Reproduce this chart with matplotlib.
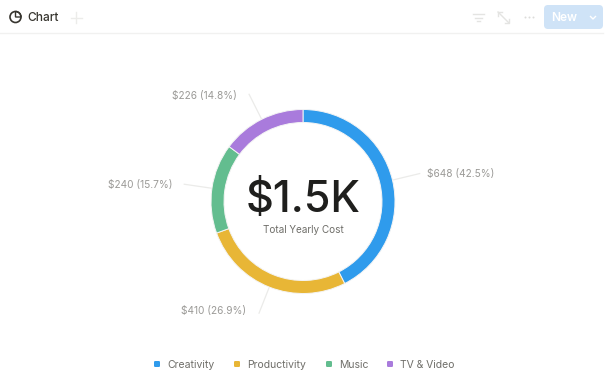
import numpy as np
import matplotlib
matplotlib.use("Agg")
import matplotlib.pyplot as plt
from matplotlib.patches import FancyBboxPatch, Circle, Wedge

plt.rcParams['font.family'] = ['Inter', 'DejaVu Sans']

categories = ["Creativity", "Productivity", "Music", "TV & Video"]
costs = [648, 410, 240, 226]
percents = [42.5, 26.9, 15.7, 14.8]
colors = ["#2f9bec", "#e8b636", "#63bd8f", "#a97bdc"]
total_label = "$1.5K"
total_caption = "Total Yearly Cost"

W, H = 610, 374
CX, CY, R = 303, 201.5, 92

fig = plt.figure(figsize=(W / 100, H / 100), dpi=100, facecolor="white")

# pixel coordinate overlay for the text, header and legend
ax = fig.add_axes([0, 0, 1, 1])
ax.set_xlim(0, W)
ax.set_ylim(H, 0)
ax.axis("off")

# header bar
ax.plot([0, 603], [33, 33], color="#f1f1f0", lw=1)
ax.add_patch(Circle((15.5, 17), 5.5, fill=False, ec="#37352f", lw=1.2))
ax.add_patch(Wedge((15.5, 17), 5.5, -90, 0, fill=False, ec="#37352f", lw=1))
ax.text(27, 17.5, "Chart", fontsize=8.6, fontweight="medium", color="#37352f", va="center")
ax.plot([76, 76], [12, 23], color="#ececea", lw=1)
ax.plot([70.5, 81.5], [17.5, 17.5], color="#ececea", lw=1)

# filter, expand and more icons
for y0, x0, x1 in [(14, 473, 484), (17.5, 475, 482), (21, 477, 480)]:
    ax.plot([x0, x1], [y0, y0], color="#e4e4e2", lw=1)
ax.plot([498, 509], [12, 23], color="#e4e4e2", lw=1)
ax.plot([498, 498, 502], [16, 12, 12], color="#e4e4e2", lw=1)
ax.plot([505, 509, 509], [23, 23, 19], color="#e4e4e2", lw=1)
ax.scatter([525, 529, 533], [17, 17, 17], s=2, color="#dcdcda", lw=0)

# New button
ax.add_patch(FancyBboxPatch((544, 5), 59, 24, boxstyle="round,pad=0,rounding_size=4",
                            fc="#cfe3f7", ec="none"))
ax.text(564, 17.5, "New", fontsize=8.6, fontweight="semibold", color="white", ha="center", va="center")
ax.plot([590.5, 593, 595.5], [16.5, 19, 16.5], color="white", lw=1)

# donut
pie_ax = fig.add_axes([(CX - R) / W, (H - CY - R) / H, 2 * R / W, 2 * R / H])
pie_ax.pie(costs, colors=colors, startangle=90, counterclock=False, radius=1,
           wedgeprops=dict(width=13 / R, edgecolor="#f4f4f4", linewidth=0.7))
pie_ax.set_xlim(-1, 1)
pie_ax.set_ylim(-1, 1)
pie_ax.patch.set_alpha(0)

# leader lines follow the slice mid angles
label_pos = [(427, 173.5, "left"), (246, 311, "right"), (172, 185, "right"), (237, 96, "right")]
fracs = np.array(costs) / sum(costs)
mids = (np.cumsum(fracs) - fracs / 2) * 2 * np.pi
for mid, cost, pct, (lx, ly, ha) in zip(mids, costs, percents, label_pos):
    dx, dy = np.sin(mid), -np.cos(mid)
    ax.plot([CX + dx * R, CX + dx * (R + 28)], [CY + dy * R, CY + dy * (R + 28)],
            color="#ebebe9", lw=0.9, zorder=0)
    ax.text(lx, ly, f"${cost} ({pct}%)", fontsize=7.3, color="#9b9a97", ha=ha, va="center")

# centre text
ax.text(CX, 200, total_label, fontsize=31, fontweight="medium", color="#1f1f1d",
        ha="center", va="center", zorder=5)
ax.text(CX, 230, total_caption, fontsize=7.2, color="#6f6e69", ha="center", va="center", zorder=5)

# legend
legend_x = [154, 234, 326, 387]
for x, name, c in zip(legend_x, categories, colors):
    ax.add_patch(FancyBboxPatch((x, 361), 6, 6, boxstyle="round,pad=0,rounding_size=1.2",
                                fc=c, ec="none"))
    ax.text(x + 13.5, 364.5, name, fontsize=7.5, color="#6f6e69", va="center")

fig.savefig("out.png", dpi=100)
